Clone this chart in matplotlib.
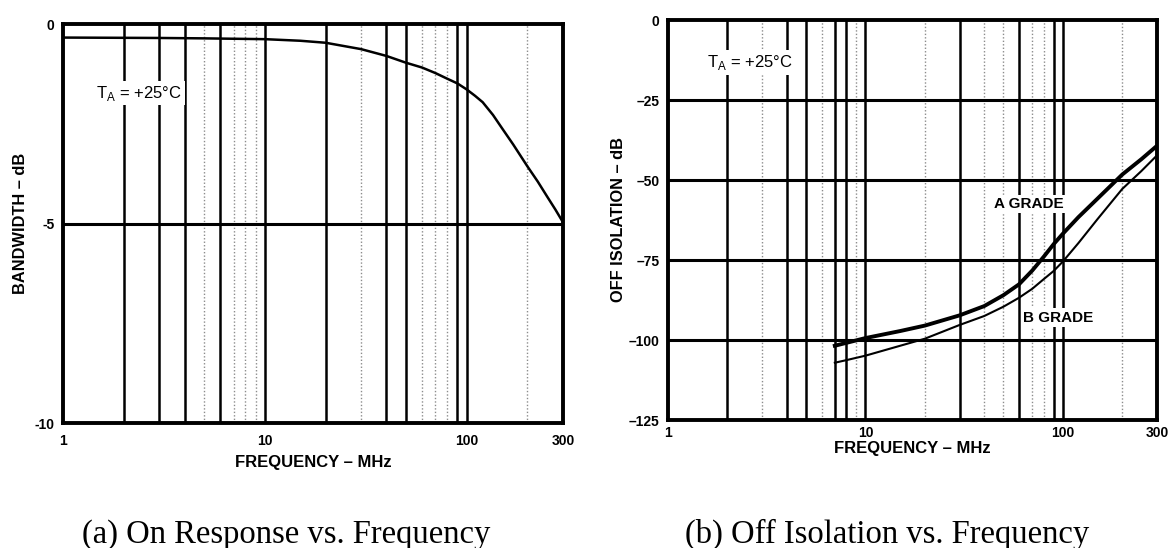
import numpy as np
import matplotlib
matplotlib.use('Agg')
import matplotlib.pyplot as plt

# (a) On response vs frequency
on_freq = [1, 3, 5, 10, 15, 20, 30, 40, 50, 60, 70, 80, 90, 100, 110, 120, 135, 150, 170, 200, 225, 250, 275, 300]
on_db = [-0.34, -0.35, -0.36, -0.38, -0.42, -0.47, -0.63, -0.80, -0.97, -1.09, -1.23, -1.37, -1.49, -1.64,
         -1.80, -1.96, -2.28, -2.62, -3.02, -3.57, -3.95, -4.32, -4.65, -4.97]

# (b) Off isolation vs frequency
off_freq = [7, 8, 10, 15, 20, 30, 40, 50, 60, 70, 80, 90, 100, 120, 150, 200, 250, 300]
off_a = [-101.8, -100.9, -99.4, -97.2, -95.5, -92.3, -89.4, -86.0, -82.6, -78.3, -74.0, -70.0, -66.8,
         -61.6, -55.8, -48.3, -43.5, -39.3]
off_b = [-107.1, -106.3, -104.9, -101.8, -99.6, -95.3, -92.5, -89.6, -86.8, -84.0, -81.0, -78.4, -75.5,
         -69.7, -62.2, -52.8, -47.2, -42.3]

# grid layout as drawn in the datasheet scans
left_heavy = [2, 3, 4, 6, 10, 20, 40, 50, 90, 100]
left_light = [5, 7, 8, 9, 30, 60, 70, 80, 200]
right_heavy = [2, 4, 5, 7, 8, 10, 30, 60, 90, 100]
right_light = [3, 6, 9, 20, 40, 50, 70, 80, 200]

xticks = [1, 10, 100, 300]
on_yticks = [0, -5, -10]
off_yticks = [0, -25, -50, -75, -100, -125]

fig = plt.figure(figsize=(11.69, 5.48), dpi=100)
sans = 'Liberation Sans'


def setup(ax, heavy, light, hlines, ylim, yticks, ylabels, ylabel, xpad, xlabpad, ylabpad):
    ax.set_xscale('log')
    ax.set_xlim(1, 300)
    ax.set_ylim(*ylim)
    for x in heavy:
        ax.axvline(x, color='black', lw=1.8, zorder=1)
    for x in light:
        ax.axvline(x, color='#8c8c8c', lw=1.0, ls=(0, (1, 1.5)), zorder=1)
    for y in hlines:
        ax.axhline(y, color='black', lw=2.2, zorder=1)
    ax.set_xticks(xticks)
    ax.set_xticklabels([str(t) for t in xticks], fontfamily=sans, fontweight='bold', fontsize=10)
    ax.xaxis.set_minor_locator(matplotlib.ticker.NullLocator())
    ax.set_yticks(yticks)
    ax.set_yticklabels(ylabels, fontfamily=sans, fontweight='bold', fontsize=10)
    ax.tick_params(axis='x', length=0, pad=xpad)
    ax.tick_params(axis='y', length=0, pad=6)
    ax.set_xlabel('FREQUENCY \u2013 MHz', fontfamily=sans, fontweight='bold', fontsize=12, labelpad=xlabpad)
    ax.set_ylabel(ylabel, fontfamily=sans, fontweight='bold', fontsize=11.8, labelpad=ylabpad)
    for s in ax.spines.values():
        s.set_linewidth(2.8)


ax1 = fig.add_axes([63 / 1169, 125 / 548, 500 / 1169, 399 / 548])
setup(ax1, left_heavy, left_light, [-5], (-10, 0), on_yticks, [str(t) for t in on_yticks],
      'BANDWIDTH \u2013 dB', 8, 5, 5)
ax1.plot(on_freq, on_db, color='black', lw=1.8, zorder=3)
ax1.text(1.46, -1.73, 'T$_\\mathregular{A}$ = +25\u00b0C', fontfamily=sans, fontsize=12,
         va='center', ha='left', bbox=dict(facecolor='white', edgecolor='none', pad=2), zorder=4)

ax2 = fig.add_axes([668 / 1169, 128 / 548, 489 / 1169, 400 / 548])
setup(ax2, right_heavy, right_light, [-25, -50, -75, -100], (-125, 0), off_yticks,
      [str(t).replace('-', '\u2013') for t in off_yticks], 'OFF ISOLATION \u2013 dB', 4, 1, 2)
ax2.plot(off_freq, off_a, color='black', lw=2.8, zorder=3)
ax2.plot(off_freq, off_b, color='black', lw=1.5, zorder=3)
ax2.text(1.58, -13.3, 'T$_\\mathregular{A}$ = +25\u00b0C', fontfamily=sans, fontsize=12,
         va='center', ha='left', bbox=dict(facecolor='white', edgecolor='none', pad=2), zorder=4)
ax2.text(67, -57.5, 'A GRADE', fontfamily=sans, fontweight='bold', fontsize=11, ha='center', va='center',
         bbox=dict(facecolor='white', edgecolor='none', pad=1.5), zorder=4)
ax2.text(95, -93, 'B GRADE', fontfamily=sans, fontweight='bold', fontsize=11, ha='center', va='center',
         bbox=dict(facecolor='white', edgecolor='none', pad=1.5), zorder=4)

fig.text(82 / 1169, 1 - 543 / 548, '(a) On Response vs. Frequency', fontfamily='Liberation Serif',
         fontsize=23.5, ha='left', va='baseline')
fig.text(685 / 1169, 1 - 543 / 548, '(b) Off Isolation vs. Frequency', fontfamily='Liberation Serif',
         fontsize=23.5, ha='left', va='baseline')

fig.savefig('out.png', dpi=100, facecolor='white')
